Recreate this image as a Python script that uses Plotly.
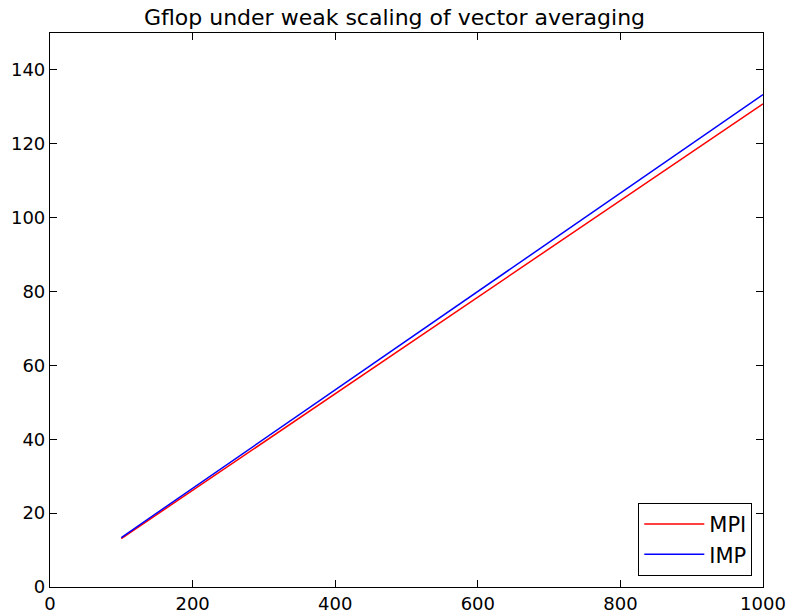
import plotly.graph_objects as go

x_vals = [100, 200, 300, 400, 500, 600, 700, 800, 900, 1000]
mpi = [13.1, 26.2, 39.2, 52.3, 65.4, 78.5, 91.6, 104.6, 117.7, 130.8]
imp = [13.4, 26.7, 40.0, 53.3, 66.7, 80.0, 93.3, 106.6, 119.9, 133.3]
x_ticks = [0, 200, 400, 600, 800, 1000]
y_ticks = [0, 20, 40, 60, 80, 100, 120, 140]

fig = go.Figure()
fig.add_trace(go.Scatter(x=x_vals, y=mpi, mode="lines", name="MPI",
                         line=dict(color="#ff0000", width=1.5)))
fig.add_trace(go.Scatter(x=x_vals, y=imp, mode="lines", name="IMP",
                         line=dict(color="#0000ff", width=1.5)))

axis_common = dict(showgrid=False, zeroline=False, showline=True, linecolor="black",
                   linewidth=1.2, mirror="allticks", ticks="inside", ticklen=7,
                   tickcolor="black", tickwidth=1, automargin=False,
                   tickfont=dict(family="DejaVu Sans", size=18, color="black"))

fig.update_layout(
    width=789, height=612,
    margin=dict(l=50, r=26, t=33, b=25),
    paper_bgcolor="white", plot_bgcolor="white",
    title=dict(text="Gflop under weak scaling of vector averaging", x=0.5, xanchor="center",
               y=1 - 17 / 612, yanchor="middle",
               font=dict(family="DejaVu Sans", size=22, color="black")),
    xaxis=dict(range=[0, 1000], tickvals=x_ticks, **axis_common),
    yaxis=dict(range=[0, 150], tickvals=y_ticks, **axis_common),
    legend=dict(x=0.985, y=0.02, xanchor="right", yanchor="bottom",
                bgcolor="white", bordercolor="black", borderwidth=1,
                font=dict(family="DejaVu Sans", size=21, color="black"),
                itemwidth=60, tracegroupgap=0),
    showlegend=True,
)

fig.write_html("out.html", config={"displayModeBar": False},
               post_script="document.body.style.margin='0';document.body.style.overflow='hidden';")
